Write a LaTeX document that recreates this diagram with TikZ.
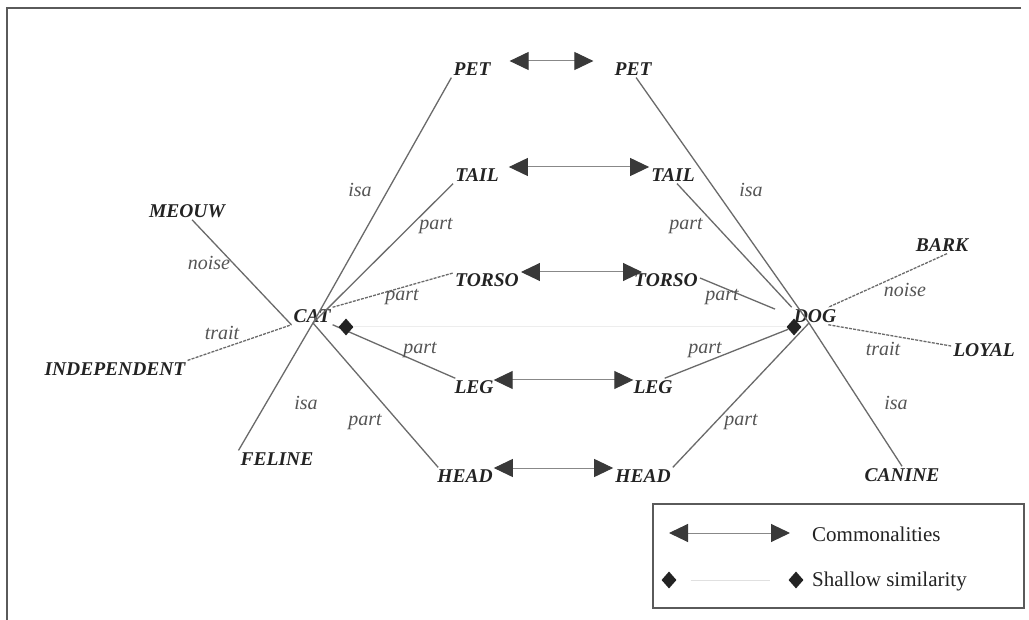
\documentclass[tikz,border=0pt]{standalone}
\usepackage{fontspec}
\setmainfont{Liberation Serif}
\usetikzlibrary{arrows.meta,shapes.geometric}

\definecolor{ink}{HTML}{232323}
\definecolor{edgegray}{HTML}{6A6A6A}
\definecolor{labelgray}{HTML}{555555}
\definecolor{framegray}{HTML}{5A5A5A}

\tikzset{
  concept/.style={font=\fontsize{19.5}{19.5}\selectfont\bfseries\itshape, text=ink, inner sep=2pt},
  rel/.style={font=\fontsize{20}{20}\selectfont\itshape, text=labelgray, inner sep=1pt},
  link/.style={draw=edgegray, line width=1.3pt},
  dotlink/.style={link, dash pattern=on 3pt off 1.2pt},
  common/.style={draw=edgegray!80, line width=1pt,
    arrows={Triangle[length=19pt,width=18pt,color=ink!90]-Triangle[length=19pt,width=18pt,color=ink!90]}},
  shallow/.style={diamond, fill=ink, draw=none, minimum width=15pt, minimum height=17pt, inner sep=0pt},
  legendtext/.style={font=\fontsize{21}{21}\selectfont, text=ink, anchor=west, inner sep=0pt},
}

\begin{document}
\begin{tikzpicture}[x=1pt, y=-1pt]
  \useasboundingbox (0,0) rectangle (1029,620);
  \fill[white] (0,0) rectangle (1029,620);

  % open frame: top and left rules only
  \coordinate (frameTL) at (7,8);
  \coordinate (frameTR) at (1021,8);
  \coordinate (frameBL) at (7,620);
  \draw[framegray, line width=1.6pt] (frameTR) -- (frameTL) -- (frameBL);

  % ---- cat side ----
  \node[concept] (cat)    at (312,316) {CAT};
  \coordinate (catHub) at (313,323);
  \node[concept] (petL)   at (472,69)  {PET};
  \node[concept] (tailL)  at (477,175) {TAIL};
  \node[concept] (torsoL) at (487,280) {TORSO};
  \node[concept] (legL)   at (474,387) {LEG};
  \node[concept] (headL)  at (465,476) {HEAD};
  \node[concept] (meouw)  at (187,211) {MEOUW};
  \node[concept] (indep)  at (115,369) {INDEPENDENT};
  \node[concept] (feline) at (277,459) {FELINE};

  % ---- dog side ----
  \node[concept] (dog)    at (815,316) {DOG};
  \coordinate (dogHub) at (809,323);
  \node[concept] (petR)   at (633,69)  {PET};
  \node[concept] (tailR)  at (673,175) {TAIL};
  \node[concept] (torsoR) at (666,280) {TORSO};
  \node[concept] (legR)   at (653,387) {LEG};
  \node[concept] (headR)  at (643,476) {HEAD};
  \node[concept] (bark)   at (942,245) {BARK};
  \node[concept] (loyal)  at (984,350) {LOYAL};
  \node[concept] (canine) at (902,475) {CANINE};

  % ---- relations of CAT ----
  \draw[link] (petL.south west) -- (catHub) -- (feline.north west);
  \draw[link] (tailL.south west) -- (catHub);
  \draw[link] (catHub) -- ([xshift=3pt]headL.north west);
  \draw[link] (meouw.-60) -- (cat.south west);
  \draw[dotlink] (indep.north east) -- (cat.south west);
  \draw[dotlink] (cat.north east) -- ([yshift=7pt]torsoL.west);
  \draw[link] (cat.south east) -- ([xshift=3pt]legL.north west);

  % ---- relations of DOG ----
  \draw[link] (petR.-70) -- (dogHub) -- (canine.north);
  \draw[link] (tailR.-65) -- (dog.north west);
  \draw[link, shorten >=18pt] ([yshift=2pt]torsoR.east) -- (dog.west);
  \draw[link] (headR.north east) -- (dogHub);
  \draw[dotlink] (bark.-60) -- ([xshift=-10pt]dog.north east);
  \draw[dotlink] ([xshift=-10pt]dog.south east) -- ([yshift=4pt]loyal.west);

  % ---- shallow similarity between the two hubs ----
  \node[shallow] (catD) at (346,327) {};
  \node[shallow] (dogD) at (794,327) {};
  \draw[link] ([xshift=-10pt]legR.north east) -- (dogD);
  \draw[black!7, line width=1pt] (catD) -- (dogD);

  % ---- relation labels ----
  \node[rel] (r1)  at (360,190) {isa};
  \node[rel] (r2)  at (436,226) {part};
  \node[rel] (r3)  at (209,263) {noise};
  \node[rel] (r4)  at (402,297) {part};
  \node[rel] (r5)  at (222,333) {trait};
  \node[rel] (r6)  at (420,350) {part};
  \node[rel] (r7)  at (306,403) {isa};
  \node[rel] (r8)  at (365,422) {part};
  \node[rel] (r9)  at (751,190) {isa};
  \node[rel] (r10) at (686,226) {part};
  \node[rel] (r11) at (905,290) {noise};
  \node[rel] (r12) at (722,297) {part};
  \node[rel] (r13) at (705,350) {part};
  \node[rel] (r14) at (883,349) {trait};
  \node[rel] (r15) at (896,403) {isa};
  \node[rel] (r16) at (741,422) {part};

  % ---- commonalities ----
  \draw[common, shorten <=17pt, shorten >=19pt] ([yshift=8pt]petL.east) -- ([yshift=8pt]petR.west);
  \draw[common, shorten <=8pt, shorten >=0pt] ([yshift=8pt]tailL.east) -- ([yshift=8pt]tailR.west);
  \draw[common, shorten <=0pt, shorten >=-10pt] ([yshift=8pt]torsoL.east) -- ([yshift=8pt]torsoR.west);
  \draw[common, shorten <=-2pt, shorten >=-2pt] ([yshift=7pt]legL.east) -- ([yshift=7pt]legR.west);
  \draw[common, shorten <=-1pt, shorten >=0pt] ([yshift=8pt]headL.east) -- ([yshift=8pt]headR.west);

  % ---- legend ----
  \node[draw=framegray, line width=1.5pt, minimum width=371pt, minimum height=104pt,
        inner sep=0pt, anchor=north west] (legend) at (652,503) {};
  \coordinate (cA) at (669,533);
  \coordinate (cB) at (790,533);
  \draw[common] (cA) -- (cB);
  \node[legendtext] (cText) at (812,534) {Commonalities};
  \node[shallow] (sA) at (669,580) {};
  \node[shallow] (sB) at (796,580) {};
  \draw[black!12, line width=1pt, shorten <=14pt, shorten >=18pt] (sA) -- (sB);
  \node[legendtext] (sText) at (812,581) {Shallow similarity};
\end{tikzpicture}
\end{document}
